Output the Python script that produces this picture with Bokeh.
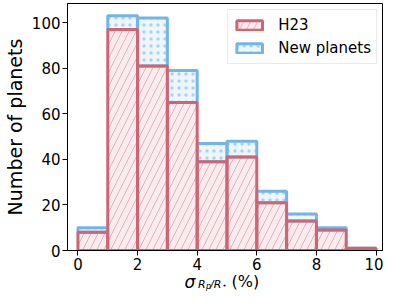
from bokeh.plotting import figure
from bokeh.layouts import column
from bokeh.models import Legend, LegendItem, FixedTicker, Range1d
from bokeh.core.properties import value
from bokeh.embed import file_html
from bokeh.resources import INLINE

# ---- data ----
bin_left = [0, 1, 2, 3, 4, 5, 6, 7, 8, 9]
bin_right = [1, 2, 3, 4, 5, 6, 7, 8, 9, 10]
h23_counts = [8, 97, 81, 65, 39, 41, 21, 13, 9, 1]
new_counts = [2, 6, 21, 14, 8, 7, 5, 3, 1, 0]
x_ticks = [0, 2, 4, 6, 8, 10]
y_ticks = [0, 20, 40, 60, 80, 100]

# x-axis label pieces: sigma_{R_p/R_*} (%)
xlabel_texts = ["σ", "R", "p", "/R", "⋆", "(%)"]

stack_top = [a + b for a, b in zip(h23_counts, new_counts)]

RED = "#cf6474"
BLUE = "#72b6e8"
FONT = "DejaVu Sans"
W = 383

xr = Range1d(-0.35, 10.25)
p = figure(width=W, height=275, output_backend="svg", toolbar_location=None,
           x_range=xr, y_range=Range1d(0, 108.4),
           min_border_left=50, min_border_right=0, min_border_top=3,
           min_border_bottom=25)
p.grid.visible = False
p.outline_line_color = "black"
p.outline_line_width = 1
p.background_fill_color = "white"
p.border_fill_color = "white"

r_blue = p.quad(left=bin_left, right=bin_right, bottom=h23_counts, top=stack_top,
                fill_color=BLUE, fill_alpha=0.12, line_color=BLUE, line_width=3,
                hatch_pattern=".", hatch_color=BLUE, hatch_scale=7, hatch_weight=0.3,
                hatch_alpha=0.55)
r_red = p.quad(left=bin_left, right=bin_right, bottom=0, top=h23_counts,
               fill_color=RED, fill_alpha=0.12, line_color=RED, line_width=3,
               hatch_pattern="/", hatch_color=RED, hatch_scale=14, hatch_weight=0.8,
               hatch_alpha=0.55)

for ax in (p.xaxis[0], p.yaxis[0]):
    ax.major_label_text_font = FONT
    ax.major_label_text_font_size = "15px"
    ax.major_label_text_color = "black"
    ax.axis_line_color = "black"
    ax.major_tick_line_color = "black"
    ax.major_tick_out = 5
    ax.major_tick_in = 0
    ax.minor_tick_line_color = None
    ax.major_label_standoff = 2

p.xaxis[0].ticker = FixedTicker(ticks=x_ticks)
p.yaxis[0].ticker = FixedTicker(ticks=y_ticks)
p.yaxis[0].axis_label = "Number of planets"
p.yaxis[0].axis_label_text_font = FONT
p.yaxis[0].axis_label_text_font_size = "19px"
p.yaxis[0].axis_label_text_font_style = "normal"
p.yaxis[0].axis_label_text_color = "black"
p.yaxis[0].axis_label_standoff = 3

legend = Legend(items=[LegendItem(label="H23", renderers=[r_red]),
                       LegendItem(label="New planets", renderers=[r_blue])],
                location="top_right")
legend.margin = 6
legend.padding = 5
legend.spacing = 3
legend.glyph_width = 32
legend.glyph_height = 12
legend.label_height = 20
legend.label_standoff = 13
legend.label_text_font = FONT
legend.label_text_font_size = "15px"
legend.label_text_color = "black"
legend.border_line_color = "#d6d6d6"
legend.border_line_width = 1
legend.background_fill_color = "white"
legend.background_fill_alpha = 0.85
p.add_layout(legend)

# strip below the main plot that carries the composed x-axis label;
# it shares the x range, so its frame lines up with the main frame
H2 = 30
p2 = figure(width=W, height=H2, output_backend="svg", toolbar_location=None,
            x_range=xr, y_range=Range1d(0, H2),
            x_axis_location=None, y_axis_location=None,
            min_border_left=50, min_border_right=0, min_border_top=0,
            min_border_bottom=0, margin=(-10, 0, 0, 0))
p2.grid.visible = False
p2.outline_line_color = None
p2.background_fill_color = None
p2.border_fill_color = None

x_mid = (xr.start + xr.end) / 2
lab_dx = [-41, -27.5, -19.5, -15.5, -3.5, 6]
lab_y = [14, 11, 9, 11, 10, 14]
lab_size = ["17px", "11px", "8px", "11px", "8px", "16px"]
lab_style = ["italic", "italic", "italic", "italic", "normal", "normal"]
for t, dx, yy, sz, st in zip(xlabel_texts, lab_dx, lab_y, lab_size, lab_style):
    p2.text(x=[x_mid], y=[yy], x_offset=dx, text=[t], text_font=value(FONT),
            text_font_size=sz, text_font_style=st, text_color="black",
            text_align="left", text_baseline="alphabetic")

layout = column(p, p2, spacing=0)
open("out.html", "w").write(file_html(layout, INLINE))
